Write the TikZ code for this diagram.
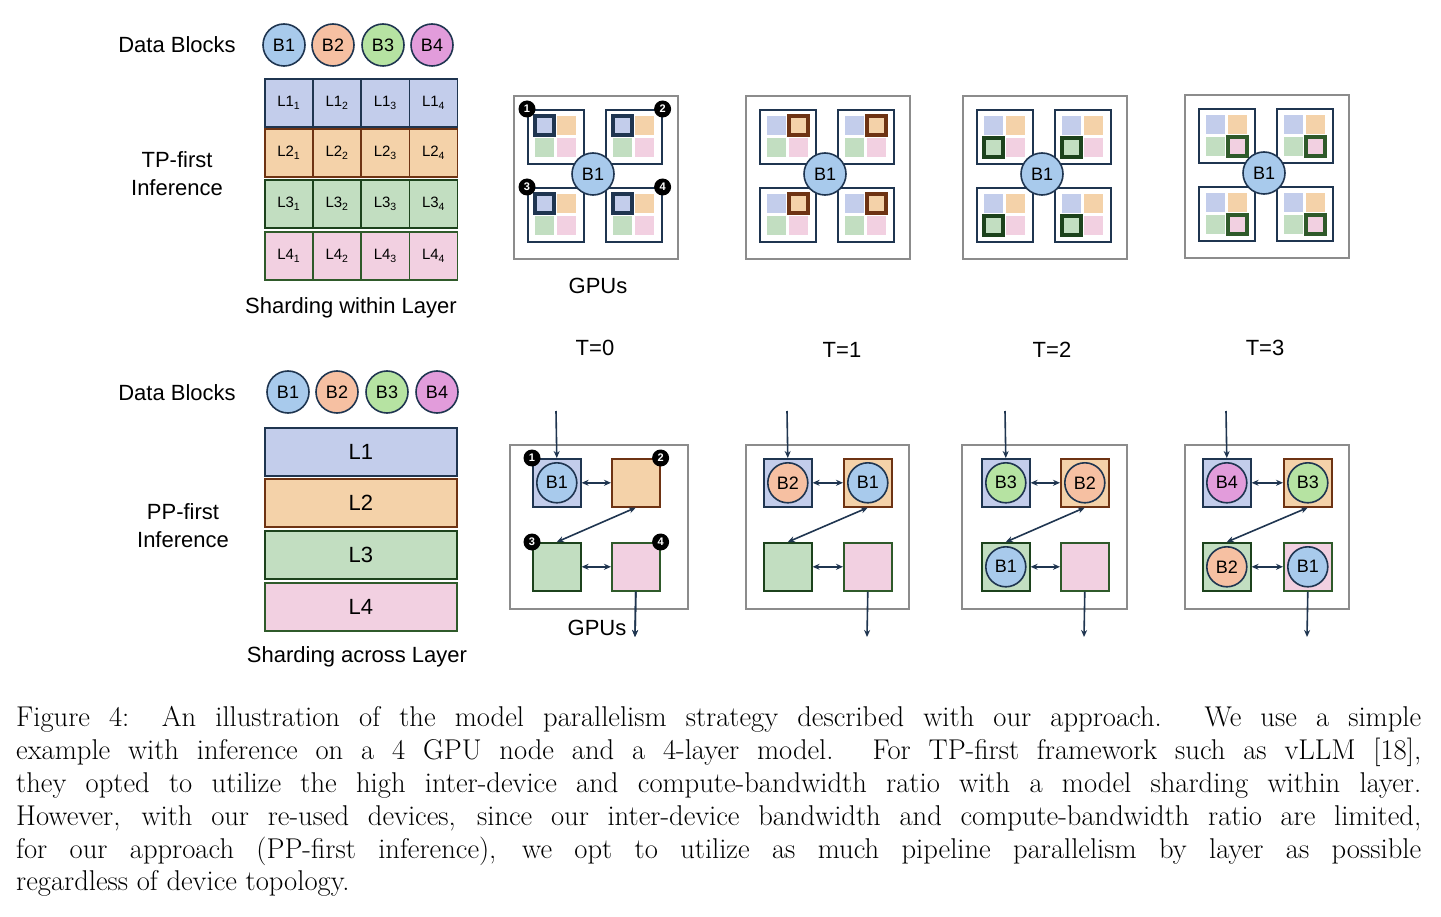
\documentclass[tikz,border=0pt]{standalone}
\usepackage{fontspec}
\newfontfamily\lsans{Liberation Sans}
\usetikzlibrary{arrows.meta}
\definecolor{bF}{HTML}{C3CDEB}\definecolor{bD}{HTML}{1F3550}
\definecolor{oF}{HTML}{F4D2A9}\definecolor{oD}{HTML}{6E3313}
\definecolor{gF}{HTML}{C2DEC1}\definecolor{gD}{HTML}{1C421C}
\definecolor{pF}{HTML}{F2D0E1}\definecolor{pD}{HTML}{2F5A2A}
\definecolor{c1}{HTML}{A8CAEC}\definecolor{c2}{HTML}{F6C0A2}
\definecolor{c3}{HTML}{B6E3A2}\definecolor{c4}{HTML}{E29CDB}
\definecolor{frame}{HTML}{8C8C8C}
\tikzset{
 lbl/.style={font=\lsans\fontsize{22}{28}\selectfont, align=center},
 blk/.style={circle, draw=bD, line width=1.6pt, minimum size=42pt, inner sep=0pt, font=\lsans\fontsize{18}{20}\selectfont},
 cell/.style={draw, line width=1.6pt, minimum width=48pt, minimum height=48pt, inner sep=0pt, anchor=north west, font=\lsans\fontsize{15}{17}\selectfont},
 layer/.style={draw, line width=1.6pt, minimum width=192pt, minimum height=48pt, inner sep=0pt, anchor=north west, font=\lsans\fontsize{22}{24}\selectfont},
 outer/.style={draw=frame, line width=1.8pt, fill=white, anchor=north west, inner sep=0pt},
 gpubox/.style={draw=bD, line width=1.6pt, fill=white, minimum width=56pt, minimum height=54pt, anchor=north west, inner sep=0pt},
 badge/.style={circle, fill=black, text=white, minimum size=17pt, inner sep=0pt, font=\lsans\bfseries\fontsize{11}{12}\selectfont},
 sq/.style={draw, line width=1.6pt, minimum width=48pt, minimum height=48pt, inner sep=0pt, anchor=north west},
 arr/.style={draw=bD, line width=1.6pt, -{Stealth[length=7pt,width=6pt]}},
 dbl/.style={draw=bD, line width=1.6pt, {Stealth[length=7pt,width=6pt]}-{Stealth[length=7pt,width=6pt]}},
}
\newcommand\tpbox[7]{%
 \begin{scope}[shift={(#2,#3)}]
 \node[outer, minimum width=164pt, minimum height=163pt] (#1) at (0,0) {};
 \foreach \gx/\gy/\gi in {14/14/a,92/14/b,14/92/c,92/92/d}{
  \node[gpubox] (#1\gi) at (\gx,\gy) {};
  \fill[bF] (\gx+8,\gy+7) rectangle ++(19,19);
  \fill[oF] (\gx+30,\gy+7) rectangle ++(19,19);
  \fill[gF] (\gx+8,\gy+29) rectangle ++(19,19);
  \fill[pF] (\gx+30,\gy+29) rectangle ++(19,19);
  \draw[line width=3.2pt, #7, fill=#6] (\gx+#4,\gy+#5) rectangle ++(19,19);
 }
 \node[blk, fill=c1] (#1cc) at (80,79) {B1};
 \end{scope}}
\begin{document}
\begin{tikzpicture}[x=1pt,y=-1pt]
\useasboundingbox (0,0) rectangle (1441,917);
% ---- TP-first ----
\node[lbl, anchor=base] (db1) at (177,53) {Data Blocks};
\node[blk, fill=c1] (tb1) at (284,45) {B1};
\node[blk, fill=c2] (tb2) at (333,45) {B2};
\node[blk, fill=c3] (tb3) at (383,45) {B3};
\node[blk, fill=c4] (tb4) at (432,45) {B4};
\foreach \r/\y/\f/\d in {1/78/bF/bD,2/128/oF/oD,3/179/gF/gD,4/231/pF/pD}{
 \foreach \c in {1,2,3,4}{
  \node[cell, fill=\f, draw=\d] (g\r\c) at ({264+(\c-1)*48.25},\y) {L\r\textsubscript{\c}};
 }}
\node[lbl] (tpf) at (177,174) {TP-first\\Inference};
\node[lbl] (swl) at (351,308) {Sharding within Layer};
\tpbox{T0}{513}{95}{8}{7}{bF}{bD}
\tpbox{T1}{745}{95}{30}{7}{oF}{oD}
\tpbox{T2}{962}{95}{8}{29}{gF}{gD}
\tpbox{T3}{1184}{94}{30}{29}{pF}{pD}
\node[badge] (n1) at (T0a.north west) {1};
\node[badge] (n2) at (T0b.north east) {2};
\node[badge] (n3) at (T0c.north west) {3};
\node[badge] (n4) at (T0d.north east) {4};
\node[lbl] (gp1) at (598,286) {GPUs};
\node[lbl] (t0) at (595,348) {T=0};
\node[lbl] (t1) at (842,350) {T=1};
\node[lbl] (t2) at (1052,350) {T=2};
\node[lbl] (t3) at (1265,348) {T=3};
% ---- PP-first ----
\node[lbl, anchor=base] (db2) at (177,400) {Data Blocks};
\node[blk, fill=c1] (pb1) at (288,392) {B1};
\node[blk, fill=c2] (pb2) at (337,392) {B2};
\node[blk, fill=c3] (pb3) at (387,392) {B3};
\node[blk, fill=c4] (pb4) at (437,392) {B4};
\node[layer, fill=bF, draw=bD] (L1) at (264,427) {L1};
\node[layer, fill=oF, draw=oD] (L2) at (264,478) {L2};
\node[layer, fill=gF, draw=gD] (L3) at (264,530) {L3};
\node[layer, fill=pF, draw=pD] (L4) at (264,582) {L4};
\node[lbl] (ppf) at (183,526) {PP-first\\Inference};
\node[lbl] (sal) at (357,657) {Sharding across Layer};
\foreach \n/\ox/\w/\lx/\rx in {P0/509/178/532/611,P1/745/163/763/843,P2/961/165/981/1060,P3/1184/164/1202/1283}{
 \node[outer, minimum width=\w pt, minimum height=164pt] (\n) at (\ox,444) {};
 \node[sq, fill=bF, draw=bD] (\n a) at (\lx,458) {};
 \node[sq, fill=oF, draw=oD] (\n b) at (\rx,458) {};
 \node[sq, fill=gF, draw=gD] (\n c) at (\lx,542) {};
 \node[sq, fill=pF, draw=pD] (\n d) at (\rx,542) {};
 \coordinate (\n in) at (\lx+24,411);
 \coordinate (\n out) at (\rx+24,637);
 \draw[arr] (\n in) -- (\n a.north);
 \draw[arr] (\n d.south) -- (\n out);
 \draw[dbl] (\n a.east) -- (\n b.west);
 \draw[dbl] (\n c.east) -- (\n d.west);
 \draw[dbl] (\n b.south) -- (\n c.north);
}
\node[badge] (m1) at (P0a.north west) {1};
\node[badge] (m2) at (P0b.north east) {2};
\node[badge] (m3) at (P0c.north west) {3};
\node[badge] (m4) at (P0d.north east) {4};
\node[lbl, fill=white, inner sep=1pt] (gp2) at (597,628) {GPUs};
\draw[arr] (P0d.south) -- (P0out);
\node[blk, fill=c1, minimum size=40pt] at (P0a) {B1};
\node[blk, fill=c2, minimum size=40pt] at (P1a) {B2};
\node[blk, fill=c1, minimum size=40pt] at (P1b) {B1};
\node[blk, fill=c3, minimum size=40pt] at (P2a) {B3};
\node[blk, fill=c2, minimum size=40pt] at (P2b) {B2};
\node[blk, fill=c1, minimum size=40pt] at (P2c) {B1};
\node[blk, fill=c4, minimum size=40pt] at (P3a) {B4};
\node[blk, fill=c3, minimum size=40pt] at (P3b) {B3};
\node[blk, fill=c2, minimum size=40pt] at (P3c) {B2};
\node[blk, fill=c1, minimum size=40pt] at (P3d) {B1};
% ---- caption ----
\node[anchor=north west, text width=1405pt, align=justify, inner sep=0pt,
 font=\fontsize{28.6}{32.9}\selectfont] (cap) at (16,706)
{Figure 4: An illustration of the model parallelism strategy described with our approach. We use a simple\linebreak example with inference on a 4 GPU node and a 4-layer model. For TP-first framework such as vLLM [18],\linebreak they opted to utilize the high inter-device and compute-bandwidth ratio with a model sharding within layer.\linebreak However, with our re-used devices, since our inter-device bandwidth and compute-bandwidth ratio are limited,\linebreak for our approach (PP-first inference), we opt to utilize as much pipeline parallelism by layer as possible\linebreak regardless of device topology.};
\end{tikzpicture}
\end{document}
